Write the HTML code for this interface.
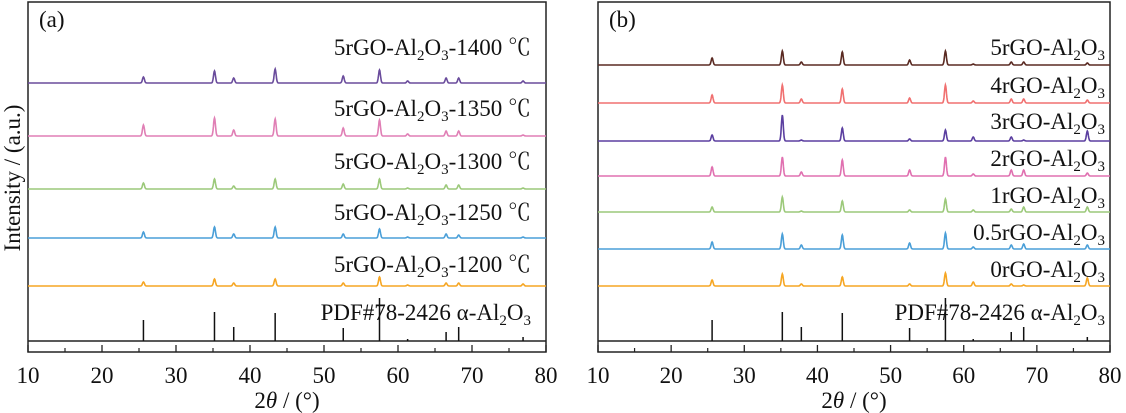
<!DOCTYPE html>
<html><head><meta charset="utf-8">
<style>
html,body{margin:0;padding:0;background:#fff;}
svg{display:block;font-family:"Liberation Serif","Noto Serif CJK SC",serif;}
</style></head>
<body>
<svg id="chart" width="1126" height="413" viewBox="0 0 1126 413"></svg>
<script>
const peakPos = [25.6, 35.2, 37.8, 43.4, 52.6, 57.5, 61.3, 66.5, 68.2, 76.9];
const pdfHeights = [21, 29, 14, 28, 13, 43, 2, 9, 14, 4];
const xTicks = [10, 20, 30, 40, 50, 60, 70, 80];
const xMinorTicks = [15, 25, 35, 45, 55, 65, 75];

const seriesA_1400 = [6, 12, 5, 14, 7, 13, 2, 5, 5, 2];
const seriesA_1350 = [11, 18, 6, 17, 8, 16, 2, 5, 5, 1];
const seriesA_1300 = [6, 10, 3, 10, 5, 10, 1, 4, 4, 1];
const seriesA_1250 = [6, 11, 4, 11, 4, 9, 1, 4, 3, 1];
const seriesA_1200 = [4, 7, 3, 7, 3, 9, 1, 3, 3, 2];

const seriesB_5 = [7, 14, 3, 13, 5, 14, 1, 3, 3, 2];
const seriesB_4 = [8, 18, 4, 14, 5, 18, 2, 4, 4, 3];
const seriesB_3 = [6, 26, 1, 13, 2, 11, 4, 4, 1, 10];
const seriesB_2 = [9, 19, 4, 16, 6, 19, 2, 6, 6, 3];
const seriesB_1 = [5, 15, 1, 11, 2, 13, 2, 3, 5, 5];
const seriesB_05 = [7, 15, 4, 14, 6, 16, 2, 4, 5, 4];
const seriesB_0 = [6, 12, 2, 9, 2, 13, 4, 2, 1, 8];

const svg = document.getElementById('chart');
const NS = 'http://www.w3.org/2000/svg';
function mk(tag, attrs, parent){ const e=document.createElementNS(NS,tag); for(const k in attrs) e.setAttribute(k,attrs[k]); (parent||svg).appendChild(e); return e; }

const FS = 23, SUB = 15;
function panel(cfg){
  const g = mk('g',{});
  
  
  const x = v => cfg.x0 + (v-10)/(80-10)*(cfg.x1-cfg.x0);
  const top=2, axisY=352, pdfBase=341;
  const box = mk('rect',{x:cfg.x0,y:top,width:cfg.x1-cfg.x0,height:axisY-top,fill:'none',stroke:'#222','stroke-width':1.5},g);
  
  
  const pl = mk('line',{x1:cfg.x0,x2:cfg.x1,y1:pdfBase,y2:pdfBase,stroke:'#222','stroke-width':1.5},g);
  
  
  xTicks.forEach(t=>{
    const l = mk('line',{x1:x(t),x2:x(t),y1:axisY,y2:axisY-7,stroke:'#222','stroke-width':1.3},g);
    
    
    const tx = mk('text',{x:x(t),y:383,'font-size':FS,'text-anchor':'middle',fill:'#111'},g);
    tx.textContent=t;
    
    
  });
  xMinorTicks.forEach(t=>{
    const l = mk('line',{x1:x(t),x2:x(t),y1:axisY,y2:axisY-4,stroke:'#222','stroke-width':1.2},g);
    
    
  });
  const xl = mk('text',{x:(cfg.x0+cfg.x1)/2,y:408,'font-size':FS,'text-anchor':'middle',fill:'#111'},g);
  xl.innerHTML='2<tspan font-style="italic">θ</tspan> / (°)';
  
  
  const pt = mk('text',{x:cfg.x0+11,y:27,'font-size':FS,fill:'#111'},g);
  pt.textContent=cfg.tag;
  
  
  peakPos.forEach((p,i)=>{
    const s = mk('line',{x1:x(p),x2:x(p),y1:pdfBase,y2:pdfBase-pdfHeights[i],stroke:'#111','stroke-width':1.5},g);
    
    
  });
  const pdfT = mk('text',{x:cfg.x1-cfg.pad,y:320,'font-size':FS,'text-anchor':'end',fill:'#111'},g);
  pdfT.innerHTML='PDF#78-2426 α-Al<tspan font-size="'+SUB+'" dy="5">2</tspan><tspan dy="-5">O</tspan><tspan font-size="'+SUB+'" dy="5">3</tspan>';
  
  
  cfg.series.forEach(s=>{
    let d='';
    for(let v=10; v<=80.001; v+=0.05){
      let h=0;
      peakPos.forEach((p,i)=>{ const z=(v-p)/0.13; h+=s.vals[i]*Math.exp(-0.5*z*z); });
      d += (d?'L':'M') + x(v).toFixed(1)+','+(s.base-h).toFixed(1);
    }
    const path = mk('path',{d:d,fill:'none',stroke:s.color,'stroke-width':1.6},g);
    
    
    const t = mk('text',{x:cfg.x1-cfg.pad,y:s.ly,'font-size':FS,'text-anchor':'end',fill:'#111'},g);
    t.innerHTML = s.pre+'rGO-Al<tspan font-size="'+SUB+'" dy="5">2</tspan><tspan dy="-5">O</tspan><tspan font-size="'+SUB+'" dy="5">3</tspan>'+(s.post?'<tspan dy="-5">'+s.post+'</tspan>':'');
    
    
  });
}

panel({name:'panel-a',tag:'(a)',x0:28,x1:546,pad:15,series:[
  {id:'a-1400',vals:seriesA_1400,base:83,ly:55,color:'#6a4c9c',pre:'5',post:'-1400 ℃'},
  {id:'a-1350',vals:seriesA_1350,base:136,ly:116,color:'#e07fb5',pre:'5',post:'-1350 ℃'},
  {id:'a-1300',vals:seriesA_1300,base:189,ly:169,color:'#9cc97a',pre:'5',post:'-1300 ℃'},
  {id:'a-1250',vals:seriesA_1250,base:238,ly:220,color:'#4a9fd8',pre:'5',post:'-1250 ℃'},
  {id:'a-1200',vals:seriesA_1200,base:286,ly:272,color:'#f6a623',pre:'5',post:'-1200 ℃'}
]});
panel({name:'panel-b',tag:'(b)',x0:598,x1:1110,pad:5,series:[
  {id:'b-5',vals:seriesB_5,base:65,ly:55,color:'#5a2a22',pre:'5'},
  {id:'b-4',vals:seriesB_4,base:103,ly:93,color:'#f07070',pre:'4'},
  {id:'b-3',vals:seriesB_3,base:141,ly:129,color:'#5b3fa0',pre:'3'},
  {id:'b-2',vals:seriesB_2,base:176,ly:166,color:'#e070b0',pre:'2'},
  {id:'b-1',vals:seriesB_1,base:212,ly:203,color:'#9cc97a',pre:'1'},
  {id:'b-05',vals:seriesB_05,base:249,ly:240,color:'#4a9fd8',pre:'0.5'},
  {id:'b-0',vals:seriesB_0,base:286,ly:277,color:'#f6a623',pre:'0'}
]});

const yl = mk('text',{x:0,y:0,'font-size':FS,'text-anchor':'middle',fill:'#111',transform:'translate(20,178) rotate(-90)'});
yl.textContent='Intensity / (a.u.)';


</script>
</body></html>
